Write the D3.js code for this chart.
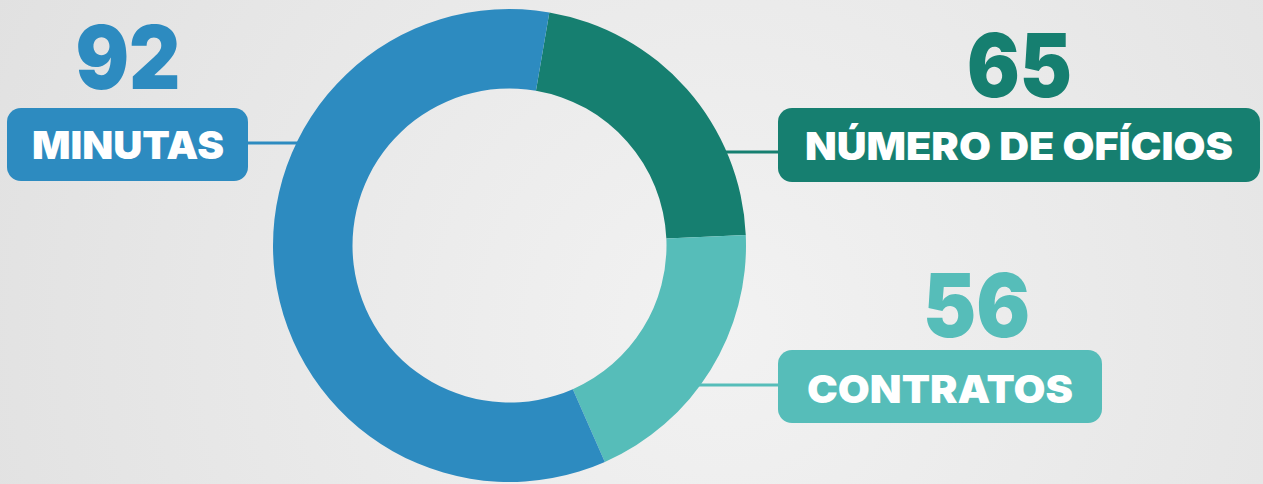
<!DOCTYPE html>
<html lang="pt">
<head>
  <meta charset="UTF-8">
  <title>donut</title>
  <script src="https://d3js.org/d3.v7.min.js"></script>
  <style>
    html, body { margin: 0; padding: 0; overflow: hidden; }
    svg { display: block; }
  </style>
</head>
<body>
  <svg id="chart" width="1263" height="484"></svg>
  <script>
    // data
    const categories = ["NÚMERO DE OFÍCIOS", "CONTRATOS", "MINUTAS"];
    const values = [65, 56, 92];
    // slice sizes as drawn in the picture (the artwork is not proportional to the values)
    const arcShares = [21.6, 19.1, 59.3];
    const colors = ["#167F70", "#56BDB9", "#2D8BC0"];

    const svg = d3.select("#chart");
    const width = +svg.attr("width");
    const height = +svg.attr("height");

    // background
    const defs = svg.append("defs");
    const grad = defs.append("radialGradient")
      .attr("id", "bg")
      .attr("gradientUnits", "userSpaceOnUse")
      .attr("cx", 720).attr("cy", 330).attr("r", 800);
    grad.append("stop").attr("offset", "0%").attr("stop-color", "#F2F2F2");
    grad.append("stop").attr("offset", "100%").attr("stop-color", "#E1E1E1");
    svg.append("rect").attr("width", width).attr("height", height).attr("fill", "url(#bg)");

    const cx = 509.5, cy = 245.5;
    const outerR = 236.5, innerR = 157;

    const table = categories.map((c, i) => ({ name: c, value: values[i], share: arcShares[i], color: colors[i] }));

    const start = 9.7 * Math.PI / 180;
    const pie = d3.pie()
      .sort(null)
      .value(d => d.share)
      .startAngle(start)
      .endAngle(start + 2 * Math.PI);
    const arc = d3.arc().innerRadius(innerR).outerRadius(outerR);

    // label layout: box, leader line y, number position
    const layout = {
      "MINUTAS": { x0: 7, x1: 248, y0: 108, y1: 181, textX0: 32, textX1: 224, base: 159, lineY: 143, lineX: 300, numX: 128, numBase: 89, numW: 105 },
      "NÚMERO DE OFÍCIOS": { x0: 778, x1: 1260, y0: 108, y1: 182, textX0: 805, textX1: 1233, base: 160, lineY: 152, lineX: 720, numX: 1019.5, numBase: 97, numW: 105 },
      "CONTRATOS": { x0: 778, x1: 1102, y0: 350, y1: 423, textX0: 807, textX1: 1073, base: 403, lineY: 385, lineX: 695, numX: 976.5, numBase: 337, numW: 107 }
    };

    const labels = svg.append("g");

    table.forEach(d => {
      const l = layout[d.name];
      labels.append("line")
        .attr("x1", l.lineX).attr("x2", l.x0 < cx ? l.x1 : l.x0)
        .attr("y1", l.lineY).attr("y2", l.lineY)
        .attr("stroke", d.color).attr("stroke-width", 3);

      labels.append("rect")
        .attr("x", l.x0).attr("y", l.y0)
        .attr("width", l.x1 - l.x0).attr("height", l.y1 - l.y0)
        .attr("rx", 14).attr("ry", 14)
        .attr("fill", d.color);

      labels.append("text")
        .attr("x", l.textX0).attr("y", l.base)
        .attr("textLength", l.textX1 - l.textX0)
        .attr("lengthAdjust", "spacingAndGlyphs")
        .style("font-family", "Inter, Lato, 'Open Sans', sans-serif")
        .style("font-weight", 900)
        .style("font-size", "38.5px")
        .attr("fill", "#FFFFFF")
        .text(d.name);

      labels.append("text")
        .attr("x", l.numX - l.numW / 2).attr("y", l.numBase)
        .attr("textLength", l.numW)
        .attr("lengthAdjust", "spacingAndGlyphs")
        .style("font-family", "Inter, Lato, 'Open Sans', sans-serif")
        .style("font-weight", 900)
        .style("font-size", "88px")
        .attr("fill", d.color)
        .text(d.value);
    });

    const ring = svg.append("g").attr("transform", `translate(${cx},${cy})`);
    ring.selectAll("path")
      .data(pie(table))
      .join("path")
      .attr("d", arc)
      .attr("fill", d => d.data.color);
  </script>
</body>
</html>
